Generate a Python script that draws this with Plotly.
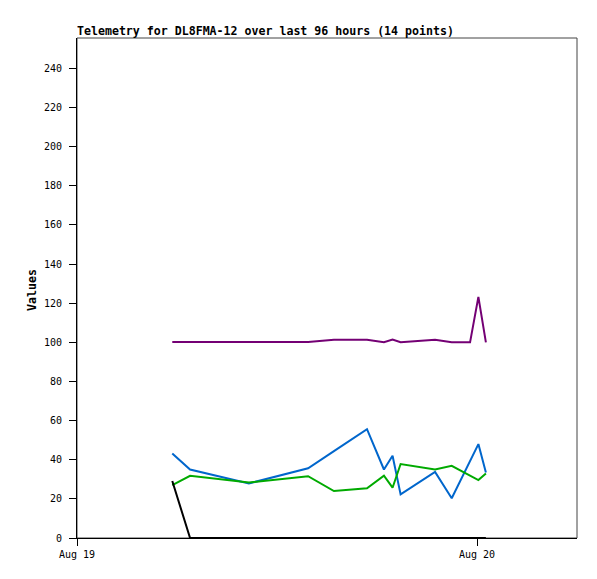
import plotly.graph_objects as go

times = [
    "2024-08-19 05:43", "2024-08-19 06:47", "2024-08-19 10:19", "2024-08-19 13:52",
    "2024-08-19 15:25", "2024-08-19 17:24", "2024-08-19 18:25", "2024-08-19 18:56",
    "2024-08-19 19:25", "2024-08-19 21:29", "2024-08-19 22:29", "2024-08-19 23:35",
    "2024-08-20 00:05", "2024-08-20 00:32",
]
purple_vals = [100.2, 100.2, 100.2, 100.2, 101.3, 101.3, 100.0, 101.4, 100.0, 101.3, 100.0, 100.0, 123.2, 100.0]
blue_vals = [43.2, 35.0, 27.9, 35.6, 44.4, 55.6, 35.0, 42.0, 22.3, 33.8, 20.3, 39.4, 48.0, 33.5]
green_vals = [27.0, 31.8, 28.4, 31.6, 24.0, 25.4, 31.8, 25.7, 37.8, 35.0, 36.9, 32.0, 29.6, 33.0]
black_vals = [29.1, 0, 0, 0, 0, 0, 0, 0, 0, 0, 0, 0, 0, 0]

x_tick_vals = ["2024-08-19 00:00", "2024-08-20 00:00"]
x_tick_text = ["Aug 19", "Aug 20"]
y_tick_vals = list(range(0, 241, 20))

series = [
    ("purple", purple_vals, "#740074"),
    ("blue", blue_vals, "#0066cc"),
    ("green", green_vals, "#00aa00"),
    ("black", black_vals, "#000000"),
]

fig = go.Figure()
for name, vals, color in series:
    fig.add_trace(go.Scatter(x=times, y=vals, mode="lines", name=name,
                             line=dict(color=color, width=2), showlegend=False))

mono = "DejaVu Sans Mono"
W, H = 581, 563  # page body has an 8px margin
fig.update_layout(
    width=W, height=H,
    margin=dict(l=69, r=12, t=30, b=33),
    plot_bgcolor="white", paper_bgcolor="white",
    font=dict(family=mono, size=10, color="black"),
    title=dict(text="<b>Telemetry for DL8FMA-12 over last 96 hours (14 points)</b>",
               x=69 / W, xanchor="left", xref="container",
               y=1 - 23 / H, yanchor="middle", yref="container",
               font=dict(family=mono, size=11.6, color="black")),
    xaxis=dict(type="date", range=["2024-08-19 00:00", "2024-08-20 06:00"],
               tickvals=x_tick_vals, ticktext=x_tick_text,
               ticks="outside", ticklen=7, tickcolor="black", tickwidth=1,
               showgrid=False, zeroline=False, showline=True, linecolor="black",
               linewidth=1, tickfont=dict(family=mono, size=10, color="black")),
    yaxis=dict(range=[0, 255.5], tickvals=y_tick_vals,
               ticks="outside", ticklen=7, tickcolor="black", tickwidth=1,
               ticklabelstandoff=5,
               showgrid=False, zeroline=False, showline=True, linecolor="black",
               linewidth=1, tickfont=dict(family=mono, size=10, color="black")),
    shapes=[dict(type="rect", xref="paper", yref="paper", x0=0, x1=1, y0=0, y1=1,
                 line=dict(color="#444444", width=1), layer="below")],
    annotations=[dict(text="<b>Values</b>", xref="paper", yref="paper",
                      x=(32 - 77) / 500, y=(538 - 290) / 500, showarrow=False,
                      textangle=-90, xanchor="center", yanchor="middle",
                      font=dict(family=mono, size=11.6, color="black"))],
)

fig.write_html("out.html")
